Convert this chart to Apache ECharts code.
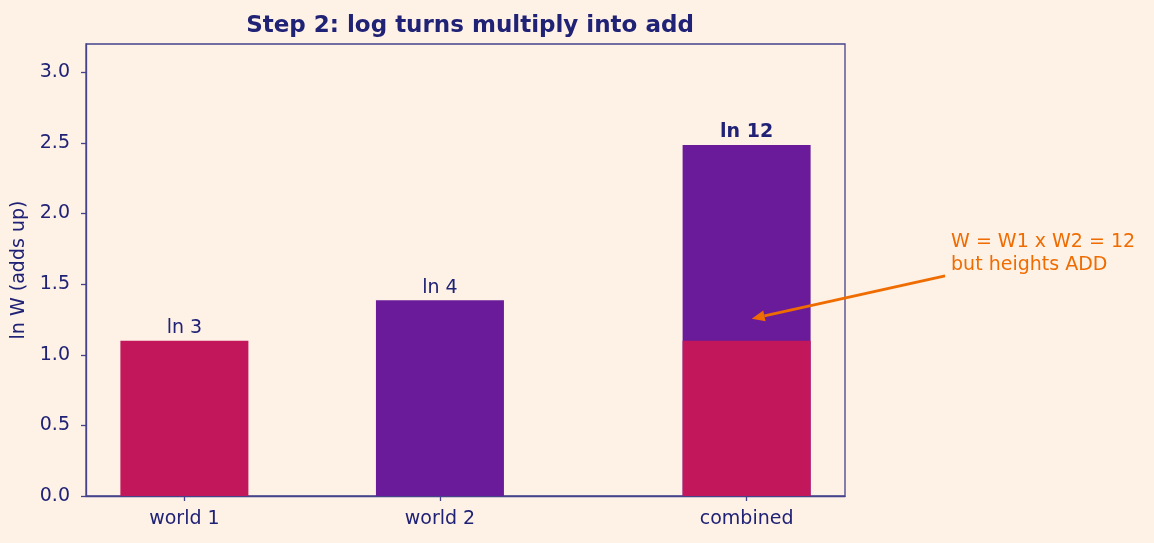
<!DOCTYPE html>
<html>
<head>
<meta charset="utf-8">
<script src="https://cdn.jsdelivr.net/npm/echarts@6/dist/echarts.min.js"></script>
<style>
  html, body { margin: 0; padding: 0; background: #fef1e6; }
  #main { width: 1154px; height: 543px; }
</style>
</head>
<body>
<div id="main"></div>
<script>
// data
var categories = ['world 1', 'world 2', 'combined'];
var positions = [0, 1, 2.2];
var redValues = [Math.log(3), null, Math.log(3)];      // ln 3 parts
var purpleValues = [null, Math.log(4), Math.log(12)];  // ln 4 and ln 12 total
var barLabels = ['ln 3', 'ln 4', 'ln 12'];
var yTicks = [0, 0.5, 1.0, 1.5, 2.0, 2.5, 3.0];

var axisColor = '#45438c';
var textColor = '#1f2275';
var orange = '#ef6c00';
var font = 'DejaVu Sans';
var fs = 19;

var chart = echarts.init(document.getElementById('main'));

function pairs(vals, labelFor) {
  var out = [];
  for (var i = 0; i < vals.length; i++) {
    if (vals[i] == null) continue;
    var item = { value: [positions[i], vals[i]] };
    if (labelFor) item.label = labelFor(i);
    out.push(item);
  }
  return out;
}

var option = {
  backgroundColor: '#fef1e6',
  animation: false,
  textStyle: { fontFamily: font },
  title: {
    text: 'Step 2: log turns multiply into add',
    left: 465, top: 10, textAlign: 'center',
    textStyle: { fontFamily: font, fontSize: 23, fontWeight: 'bold', color: textColor }
  },
  grid: {
    left: 86, right: 309, top: 44, bottom: 47,
    show: true, borderColor: axisColor, borderWidth: 1.3, backgroundColor: 'transparent'
  },
  xAxis: {
    type: 'value', min: -0.385, max: 2.585,
    splitLine: { show: false },
    axisLine: { show: true, onZero: false, lineStyle: { color: axisColor, width: 1.3 } },
    axisTick: { show: true, customValues: positions, length: 5, lineStyle: { color: axisColor, width: 1.3 } },
    axisLabel: {
      customValues: positions, margin: 14, fontSize: fs, color: textColor, fontFamily: font,
      formatter: function (v) {
        var i = positions.indexOf(v);
        return i >= 0 ? categories[i] : '';
      }
    }
  },
  yAxis: {
    type: 'value', min: 0, max: 3.2,
    name: 'ln W (adds up)', nameLocation: 'middle', nameGap: 48,
    nameTextStyle: { fontSize: fs, color: textColor, fontFamily: font },
    splitLine: { show: false },
    axisLine: { show: true, onZero: false, lineStyle: { color: axisColor, width: 1.3 } },
    axisTick: { show: true, customValues: yTicks, length: 5, lineStyle: { color: axisColor, width: 1.3 } },
    axisLabel: {
      customValues: yTicks, margin: 16, fontSize: fs, color: textColor, fontFamily: font,
      formatter: function (v) { return v.toFixed(1); }
    }
  },
  series: [
    {
      name: 'purple', type: 'bar', barWidth: 128, barGap: '-100%', z: 2,
      itemStyle: { color: '#6a1b9a' },
      label: { show: true, position: 'top', distance: 3, fontSize: fs, color: textColor, fontFamily: font },
      data: pairs(purpleValues, function (i) {
        return { formatter: barLabels[i], fontWeight: i === 2 ? 'bold' : 'normal' };
      })
    },
    {
      name: 'red', type: 'bar', barWidth: 128, barGap: '-100%', z: 3,
      itemStyle: { color: '#c2185b' },
      label: { show: false, position: 'top', distance: 3, fontSize: fs, color: textColor, fontFamily: font },
      data: pairs(redValues, function (i) {
        return i === 0 ? { show: true, formatter: barLabels[i] } : { show: false };
      })
    }
  ]
};
chart.setOption(option);

// annotation arrow: from text at (3.0, 1.7) to point (2.2, 1.25)
var tip = chart.convertToPixel({ gridIndex: 0 }, [2.22, 1.255]);
var txt = chart.convertToPixel({ gridIndex: 0 }, [3.0, 1.7]);
var tail = [txt[0] - 6, txt[1] + 20];
var ang = Math.atan2(tip[1] - tail[1], tip[0] - tail[0]);
var hl = 13, hw = 5.5;
var bx = tip[0] - hl * Math.cos(ang), by = tip[1] - hl * Math.sin(ang);
chart.setOption({
  graphic: [
    {
      type: 'line', z: 10,
      shape: { x1: tail[0], y1: tail[1], x2: bx, y2: by },
      style: { stroke: orange, lineWidth: 2.8 }
    },
    {
      type: 'polygon', z: 10,
      shape: { points: [
        [tip[0], tip[1]],
        [bx + hw * Math.sin(ang), by - hw * Math.cos(ang)],
        [bx - hw * Math.sin(ang), by + hw * Math.cos(ang)]
      ] },
      style: { fill: orange }
    },
    {
      type: 'text', z: 10, x: txt[0], y: txt[1] - 2,
      style: {
        text: 'W = W1 x W2 = 12\nbut heights ADD',
        fill: orange, font: fs + 'px "DejaVu Sans"', lineHeight: 23,
        verticalAlign: 'middle', align: 'left'
      }
    }
  ]
});
</script>
</body>
</html>
